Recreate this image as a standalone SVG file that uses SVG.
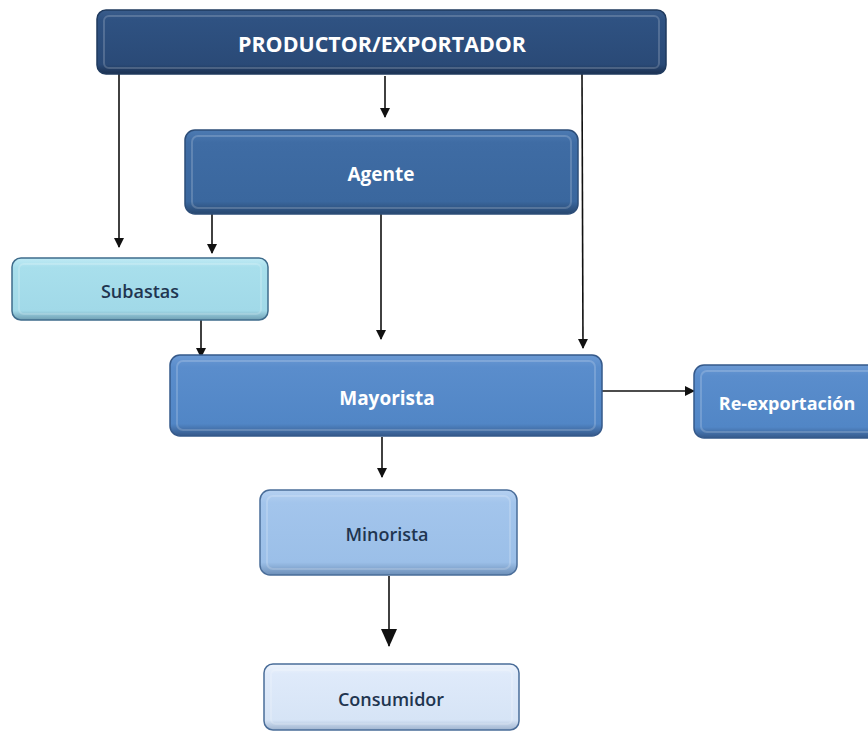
<svg xmlns="http://www.w3.org/2000/svg" width="868" height="732" viewBox="0 0 868 732">
<style>
.lbl{font-family:"Open Sans","Liberation Sans",sans-serif;font-weight:bold;text-anchor:middle;dominant-baseline:central}
.w{fill:#ffffff}
.d{fill:#1f3550;font-weight:600}
.con{stroke:#111;stroke-width:1.6;fill:none}
.hl{fill:none;stroke:#ffffff;stroke-opacity:0.18;stroke-width:2}
</style>
<defs>
<marker id="ah" markerWidth="10" markerHeight="10" refX="9" refY="5" orient="auto" markerUnits="userSpaceOnUse">
<path d="M0,0 L10,5 L0,10 z" fill="#111"/>
</marker>
<marker id="ahb" markerWidth="18" markerHeight="18" refX="17" refY="8" orient="auto" markerUnits="userSpaceOnUse">
<path d="M0,0 L18,8 L0,16 z" fill="#111"/>
</marker>
<linearGradient id="g1" x1="0" y1="0" x2="0" y2="1"><stop offset="0" stop-color="#3a5d8c"/><stop offset="0.15" stop-color="#2f5282"/><stop offset="0.85" stop-color="#2a4a77"/><stop offset="1" stop-color="#1b3050"/></linearGradient>
<linearGradient id="g2" x1="0" y1="0" x2="0" y2="1"><stop offset="0" stop-color="#4d7bb3"/><stop offset="0.15" stop-color="#3f6ca4"/><stop offset="0.85" stop-color="#3a679e"/><stop offset="1" stop-color="#27476f"/></linearGradient>
<linearGradient id="g3" x1="0" y1="0" x2="0" y2="1"><stop offset="0" stop-color="#c0ebf5"/><stop offset="0.15" stop-color="#a8dfec"/><stop offset="0.85" stop-color="#a1d9e8"/><stop offset="1" stop-color="#6f9fb3"/></linearGradient>
<linearGradient id="g4" x1="0" y1="0" x2="0" y2="1"><stop offset="0" stop-color="#6c9ad4"/><stop offset="0.15" stop-color="#5a8dcc"/><stop offset="0.85" stop-color="#5186c6"/><stop offset="1" stop-color="#35598a"/></linearGradient>
<linearGradient id="g5" x1="0" y1="0" x2="0" y2="1"><stop offset="0" stop-color="#b6d1f1"/><stop offset="0.15" stop-color="#a3c5ec"/><stop offset="0.85" stop-color="#9bbfe8"/><stop offset="1" stop-color="#6d8fb8"/></linearGradient>
<linearGradient id="g6" x1="0" y1="0" x2="0" y2="1"><stop offset="0" stop-color="#eef4fc"/><stop offset="0.15" stop-color="#dfeafa"/><stop offset="0.85" stop-color="#d6e4f6"/><stop offset="1" stop-color="#9fb4cf"/></linearGradient>
</defs>
<g id="connectors">
<line class="con" x1="119" y1="74" x2="119" y2="247" marker-end="url(#ah)"/>
<line class="con" x1="385" y1="76" x2="385" y2="117" marker-end="url(#ah)"/>
<line class="con" x1="582" y1="74" x2="583" y2="348" marker-end="url(#ah)"/>
<line class="con" x1="212" y1="214" x2="212" y2="253" marker-end="url(#ah)"/>
<line class="con" x1="381" y1="214" x2="381" y2="339" marker-end="url(#ah)"/>
<line class="con" x1="201" y1="320" x2="201" y2="357" marker-end="url(#ah)"/>
<line class="con" x1="602" y1="391" x2="694" y2="391" marker-end="url(#ah)"/>
<line class="con" x1="382" y1="437" x2="382" y2="477" marker-end="url(#ah)"/>
<line class="con" x1="389" y1="576" x2="389" y2="646" stroke-width="2" marker-end="url(#ahb)"/>
</g>
<g id="productor">
<rect x="97" y="10" width="569" height="64" rx="9" fill="url(#g1)" stroke="#1f3a5e" stroke-width="1.5"/>
<rect x="104" y="16" width="555" height="52" rx="5" class="hl"/>
<text class="lbl w" x="382" y="44" font-size="21" textLength="288" lengthAdjust="spacingAndGlyphs">PRODUCTOR/EXPORTADOR</text>
</g>
<g id="agente">
<rect x="185" y="130" width="393" height="84" rx="10" fill="url(#g2)" stroke="#2c4d78" stroke-width="1.5"/>
<rect x="192" y="136" width="379" height="72" rx="6" class="hl"/>
<text class="lbl w" x="381" y="174" font-size="19">Agente</text>
</g>
<g id="subastas">
<rect x="12" y="258" width="256" height="62" rx="9" fill="url(#g3)" stroke="#3f6c8c" stroke-width="1.5"/>
<rect x="19" y="264" width="242" height="50" rx="5" class="hl"/>
<text class="lbl d" x="140" y="291" font-size="18">Subastas</text>
</g>
<g id="mayorista">
<rect x="170" y="355" width="432" height="81" rx="10" fill="url(#g4)" stroke="#35598a" stroke-width="1.5"/>
<rect x="177" y="361" width="418" height="69" rx="6" class="hl"/>
<text class="lbl w" x="387" y="398" font-size="19">Mayorista</text>
</g>
<g id="reexportacion">
<rect x="694" y="365" width="190" height="73" rx="10" fill="url(#g4)" stroke="#35598a" stroke-width="1.5"/>
<rect x="701" y="371" width="176" height="61" rx="6" class="hl"/>
<text class="lbl w" x="787" y="403" font-size="18">Re-exportación</text>
</g>
<g id="minorista">
<rect x="260" y="490" width="257" height="85" rx="10" fill="url(#g5)" stroke="#4a6d99" stroke-width="1.5"/>
<rect x="267" y="496" width="243" height="73" rx="6" class="hl"/>
<text class="lbl d" x="387" y="534" font-size="18">Minorista</text>
</g>
<g id="consumidor">
<rect x="264" y="664" width="255" height="66" rx="9" fill="url(#g6)" stroke="#4a6d99" stroke-width="1.5"/>
<rect x="271" y="670" width="241" height="54" rx="5" class="hl"/>
<text class="lbl d" x="391" y="699" font-size="18">Consumidor</text>
</g>
</svg>
